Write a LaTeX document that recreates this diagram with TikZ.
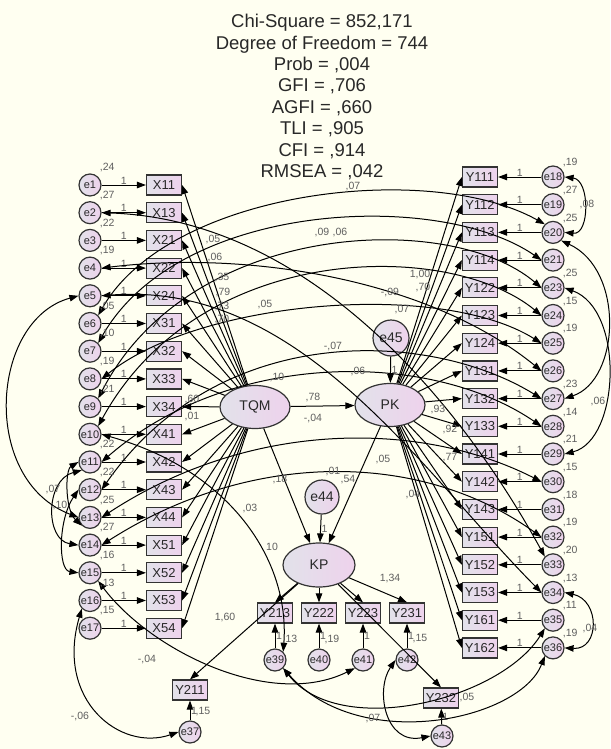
\documentclass[tikz,border=0pt]{standalone}
\usepackage{fontspec}
\setmainfont{Liberation Sans}
\usetikzlibrary{arrows.meta,shapes.geometric}
\definecolor{paper}{RGB}{255,255,241}
\definecolor{boxpink}{RGB}{238,210,236}
\definecolor{boxgrey}{RGB}{226,226,234}
\definecolor{numgrey}{RGB}{95,95,95}
\definecolor{inkgrey}{RGB}{40,40,40}
\tikzset{
  obs/.style={draw=black!80, line width=1.2pt, left color=boxgrey, right color=boxpink,
    minimum width=35pt, minimum height=20pt, inner sep=0pt, text=inkgrey,
    font=\fontsize{13}{13}\selectfont},
  err/.style={circle, draw=black!80, line width=1.2pt, left color=boxgrey, right color=boxpink,
    minimum size=22pt, inner sep=0pt, text=inkgrey, font=\fontsize{11}{11}\selectfont},
  disturb/.style={err, minimum size=36pt, font=\fontsize{14}{14}\selectfont},
  latent/.style={ellipse, draw=black!80, line width=1.2pt, left color=boxgrey, right color=boxpink,
    minimum width=70pt, minimum height=43pt, inner sep=0pt, text=inkgrey,
    font=\fontsize{14}{14}\selectfont},
  load/.style={-{Triangle[length=9pt,width=6.5pt]}, line width=1pt},
  covar/.style={{Triangle[length=9pt,width=6.5pt]}-{Triangle[length=9pt,width=6.5pt]}, line width=1pt},
  est/.style={font=\fontsize{10.5}{10.5}\selectfont, text=numgrey, inner sep=0.5pt},
}
\begin{document}
\begin{tikzpicture}[x=1pt, y=-1pt]
\fill[paper] (0,0) rectangle (610,749);
\useasboundingbox (0,0) rectangle (610,749);

% fit statistics
\node[align=center, text=inkgrey, font=\fontsize{18.5}{21.4}\selectfont] (fit) at (322,97)
  {Chi-Square = 852,171\\ Degree of Freedom = 744\\ Prob = ,004\\ GFI = ,706\\
   AGFI = ,660\\ TLI = ,905\\ CFI = ,914\\ RMSEA = ,042};

% latent variables
\node[latent] (TQM) at (255,407) {TQM};
\node[latent] (PK) at (390,405) {PK};
\node[latent, minimum width=72pt, minimum height=44pt] (KP) at (319,565) {KP};
\node[disturb] (e45) at (391,338) {e45};
\node[disturb, minimum size=34pt] (e44) at (322,497) {e44};

% TQM indicators
\foreach \lab [count=\i] in {X11,X13,X21,X22,X24,X31,X32,X33,X34,X41,X42,X43,X44,X51,X52,X53,X54} {
  \node[obs] (\lab) at (164,{185+27.7*(\i-1)}) {\lab};
  \node[err] (e\i) at (90,{185+27.7*(\i-1)}) {e\i};
  \draw[load] (e\i) -- node[est, above] {1} (\lab);
  \draw[load] (TQM) -- (\lab.east);
}

% PK indicators
\foreach \lab/\en [count=\j] in {Y111/18,Y112/19,Y113/20,Y114/21,Y122/23,Y123/24,Y124/25,Y131/26,Y132/27,
    Y133/28,Y141/29,Y142/30,Y143/31,Y151/32,Y152/33,Y153/34,Y161/35,Y162/36} {
  \node[obs] (\lab) at (480,{177+27.7*(\j-1)}) {\lab};
  \node[err] (e\en) at (553,{177+27.7*(\j-1)}) {e\en};
  \draw[load] (e\en) -- node[est, above] {1} (\lab);
  \draw[load] (PK) -- (\lab.west);
}

% KP indicators
\foreach \lab/\en/\px in {Y213/39/275,Y222/40/319,Y223/41/363,Y231/42/407} {
  \node[obs] (\lab) at (\px,613) {\lab};
  \node[err] (e\en) at (\px,660) {e\en};
  \draw[load] (e\en) -- node[est, right] {1} (\lab);
  \draw[load] (KP) -- (\lab.north);
}
\node[obs] (Y211) at (190,690) {Y211};
\node[err] (e37) at (190,732) {e37};
\node[obs] (Y232) at (441,698) {Y232};
\node[err] (e43) at (442,736) {e43};
\draw[load] (e37) -- node[est, right] {1} (Y211);
\draw[load] (e43) -- node[est, right] {1} (Y232);
\draw[load] (KP) -- (Y211.north);
\draw[load] (KP) -- (Y232.north);

% structural paths
\draw[load] (TQM) -- (PK);
\draw[load] (TQM) -- (KP);
\draw[load] (PK) -- (KP);
\draw[load] (e45) -- node[est, right] {1} (PK);
\draw[load] (e44) -- node[est, right] {1} (KP);

% covariances between errors
\draw[covar] (e6.north east) .. controls (170,190) and (430,160) .. (e20.north west);
\draw[covar] (e7.north east) .. controls (180,200) and (440,190) .. (e21.west);
\draw[covar] (e9.north east) .. controls (190,220) and (450,210) .. (e23.west);
\draw[covar] (e10.north east) .. controls (200,240) and (450,240) .. (e24.west);
\draw[covar] (e4.east) .. controls (250,250) and (430,280) .. (e26.west);
\draw[covar] (e8.east) .. controls (200,300) and (440,280) .. (e25.west);
\draw[covar] (e12.east) .. controls (220,320) and (430,330) .. (e27.west);
\draw[covar] (e11.east) .. controls (230,350) and (430,350) .. (e28.west);
\draw[covar] (e13.east) .. controls (250,420) and (420,420) .. (e30.west);
\draw[covar] (e14.east) .. controls (250,450) and (420,450) .. (e32.west);
\draw[covar] (e2.east) .. controls (320,220) and (470,420) .. (e33.north west);
\draw[covar] (e5.east) .. controls (300,280) and (420,470) .. (e34.west);
\draw[covar] (e10.east) .. controls (230,470) and (290,560) .. (e39.north east);
\draw[covar] (e5.west) .. controls (-10,320) and (-20,480) .. (e13.west);
\draw[covar] (e11.west) .. controls (65,470) and (65,510) .. (e13.south west);
\draw[covar] (e11.south west) .. controls (45,480) and (45,540) .. (e14.west);
\draw[covar] (e12.west) .. controls (58,520) and (58,570) .. (e15.west);
\draw[covar] (e16.south west) .. controls (55,700) and (120,752) .. (e37.west);
\draw[covar] (e15.south east) .. controls (150,650) and (270,710) .. (e41.south west);
\draw[covar] (e18.east) .. controls (590,180) and (590,235) .. (e20.east);
\draw[covar] (e20.south east) .. controls (625,270) and (620,380) .. (e27.east);
\draw[covar] (e23.east) .. controls (625,310) and (620,440) .. (e29.east);
\draw[covar] (e34.east) .. controls (600,600) and (600,650) .. (e36.east);
\draw[covar] (e39.south east) .. controls (340,740) and (500,700) .. (e35.south west);
\draw[covar] (e39.south east) .. controls (360,755) and (520,720) .. (e36.south west);
\draw[covar] (e42.west) .. controls (375,690) and (385,745) .. (e43.west);

% variances
\foreach \i/\v in {1/{,24},2/{,27},3/{,22},4/{,19},6/{,05},7/{,10},8/{,19},9/{,21},
    11/{,22},12/{,22},13/{,25},14/{,27},15/{,16},16/{,13},17/{,15}}
  \node[est, anchor=south west] (var\i) at ([xshift=1pt, yshift=4pt]e\i.north east) {\v};
\foreach \i/\v in {18/{,19},19/{,27},20/{,25},23/{,25},24/{,15},25/{,19},27/{,23},28/{,14},
    29/{,21},30/{,15},31/{,18},32/{,19},33/{,20},34/{,13},35/{,11},36/{,19}}
  \node[est, anchor=south west] (var\i) at ([xshift=1pt, yshift=1pt]e\i.north east) {\v};

% estimates
\foreach \px/\py/\txt [count=\k] in {213/240/{,05}, 215/258/{,06}, 222/278/{,35}, 223/293/{,79},
    222/307/{,73}, 222/320/{,70}, 192/400/{,60}, 192/417/{,01},
    420/275/{1,00}, 423/288/{,70}, 438/410/{,93}, 450/430/{,92}, 450/458/{,77},
    313/398/{,78}, 313/419/{-,04}, 277/378/{,10}, 358/372/{,06}, 333/347/{-,07}, 265/305/{,05},
    280/480/{,18}, 333/472/{,01}, 348/480/{,54}, 383/460/{,05}, 413/495/{,04}, 250/508/{,03},
    272/547/{10}, 390/578/{1,34}, 225/617/{1,60}, 147/659/{-,04}, 80/716/{-,06}, 373/718/{,07},
    203/712/{,15}, 290/639/{,13}, 332/639/{,19}, 420/639/{,15}, 467/697/{,05},
    587/205/{,08}, 598/402/{,06}, 590/628/{,04}, 53/490/{,07}, 60/505/{,10},
    353/187/{,07}, 322/233/{,09}, 340/233/{,06}, 390/293/{-,09}, 402/310/{,07}}
  \node[est] (est\k) at (\px,\py) {\txt};
\end{tikzpicture}
\end{document}
